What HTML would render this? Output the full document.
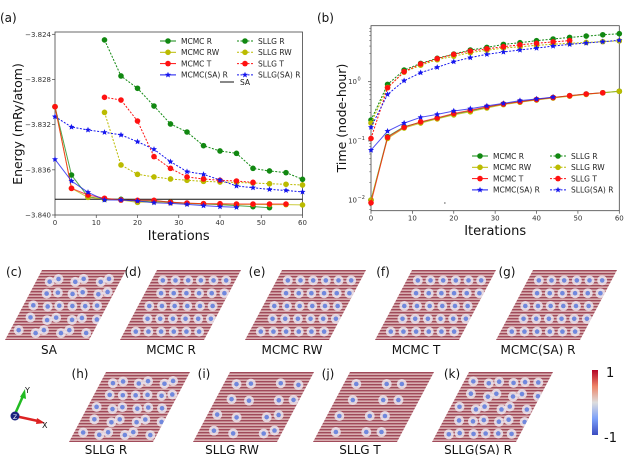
<!DOCTYPE html>
<html><head><meta charset="utf-8"><style>
html,body{margin:0;padding:0;background:#fff;}
svg{display:block;font-family:"DejaVu Sans","Liberation Sans",sans-serif;}
</style></head><body>
<svg id="fig" width="640" height="455" viewBox="0 0 640 455" xmlns="http://www.w3.org/2000/svg">
<defs>
<pattern id="stripes" width="6" height="3" patternUnits="userSpaceOnUse">
<rect width="6" height="3" fill="#d8aeb0"/><rect y="0" width="6" height="1.4" fill="#a04a5a"/>
</pattern>
<linearGradient id="cbar" x1="0" y1="0" x2="0" y2="1">
<stop offset="0" stop-color="#b40426"/><stop offset="0.25" stop-color="#ee8468"/><stop offset="0.5" stop-color="#dddddd"/><stop offset="0.75" stop-color="#7b9ff9"/><stop offset="1" stop-color="#3b4cc0"/>
</linearGradient>
</defs>
<g id="pa"></g>
<g id="pb"></g>
<g id="imgs"></g>
</svg>
<script>
// ---- Panel (a) data: energy (mRy/atom) ----
const xA_ticks = [0,10,20,30,40,50,60];
const yA_ticks = [-3.824,-3.828,-3.832,-3.836,-3.840];
const yA_tickLabels = ["\u22123.824","\u22123.828","\u22123.832","\u22123.836","\u22123.840"];
const eMcmcR  = [[0,-3.83041],[4,-3.83646],[8,-3.83838],[12,-3.83861],[16,-3.83861],[20,-3.83876],[24,-3.83876],[28,-3.83885],[32,-3.83897],[36,-3.83903],[40,-3.83908],[44,-3.83917],[48,-3.83926],[52,-3.83935]];
const eMcmcRW = [[0,-3.83041],[4,-3.83764],[8,-3.83844],[12,-3.83858],[16,-3.83867],[20,-3.83888],[24,-3.83882],[28,-3.83891],[32,-3.83897],[36,-3.83900],[40,-3.83903],[44,-3.83906],[48,-3.83906],[52,-3.83908],[56,-3.83908],[60,-3.83911]];
const eMcmcT  = [[0,-3.83041],[4,-3.83764],[8,-3.83823],[12,-3.83852],[16,-3.83867],[20,-3.83870],[24,-3.83870],[28,-3.83888],[32,-3.83894],[36,-3.83900],[40,-3.83900],[44,-3.83903],[48,-3.83903],[52,-3.83903],[56,-3.83903]];
const eMcmcSA = [[0,-3.83507],[4,-3.83699],[8,-3.83799],[12,-3.83867],[16,-3.83867],[20,-3.83876],[24,-3.83891],[28,-3.83897],[32,-3.83906],[36,-3.83917],[40,-3.83926],[44,-3.83932]];
const eSllgR  = [[12,-3.82450],[16,-3.82769],[20,-3.82878],[24,-3.83035],[28,-3.83194],[32,-3.83265],[36,-3.83386],[40,-3.83433],[44,-3.83454],[48,-3.83587],[52,-3.83610],[56,-3.83625],[60,-3.83684]];
const eSllgRW = [[12,-3.83091],[16,-3.83557],[20,-3.83640],[24,-3.83663],[28,-3.83681],[32,-3.83693],[36,-3.83702],[40,-3.83708],[44,-3.83711],[48,-3.83717],[52,-3.83723],[56,-3.83728],[60,-3.83734]];
const eSllgT  = [[12,-3.82958],[16,-3.82982],[20,-3.83168],[24,-3.83483],[28,-3.83587],[32,-3.83663],[36,-3.83681],[40,-3.83693],[44,-3.83699],[48,-3.83711]];
const eSllgSA = [[0,-3.83129],[4,-3.83221],[8,-3.83247],[12,-3.83268],[16,-3.83291],[20,-3.83351],[24,-3.83418],[28,-3.83528],[32,-3.83616],[36,-3.83640],[40,-3.83690],[44,-3.83743],[48,-3.83758],[52,-3.83773],[56,-3.83782],[60,-3.83796]];
const eSA = -3.83861;

// ---- Panel (b) data: time (node-hour), log scale ----
const xB_ticks = [0,10,20,30,40,50,60];
const yB_exps = [0,-1,-2];
const tSllgR  = [[0,0.225],[4,0.90],[8,1.57],[12,2.04],[16,2.48],[20,2.93],[24,3.43],[28,3.8],[32,4.27],[36,4.56],[40,4.93],[44,5.26],[48,5.6],[52,5.9],[56,6.2],[60,6.47]];
const tSllgRW = [[0,0.2],[4,0.8],[8,1.45],[12,1.9],[16,2.35],[20,2.7],[24,3.1],[28,3.4],[32,3.7],[36,3.9],[40,4.1],[44,4.3],[48,4.45],[52,4.6],[56,4.75],[60,4.9]];
const tSllgT  = [[0,0.11],[4,0.79],[8,1.48],[12,2.0],[16,2.45],[20,2.9],[24,3.3],[28,3.6],[32,3.9],[36,4.2],[40,4.45],[44,4.7],[48,4.95]];
const tSllgSA = [[0,0.17],[4,0.61],[8,1.04],[12,1.42],[16,1.75],[20,2.18],[24,2.55],[28,2.9],[32,3.17],[36,3.43],[40,3.7],[44,4.0],[48,4.27],[52,4.5],[56,4.74],[60,5.0]];
const tMcmcR  = [[0,0.01],[4,0.118],[8,0.174],[12,0.205],[16,0.24],[20,0.284],[24,0.32],[28,0.37],[32,0.42],[36,0.46],[40,0.50],[44,0.54],[48,0.58],[52,0.62],[56,0.65],[60,0.69]];
const tMcmcRW = [[0,0.01],[4,0.11],[8,0.165],[12,0.2],[16,0.235],[20,0.275],[24,0.31],[28,0.36],[32,0.41],[36,0.45],[40,0.49],[44,0.53],[48,0.57],[52,0.61],[56,0.65],[60,0.69]];
const tMcmcT  = [[0,0.009],[4,0.115],[8,0.17],[12,0.21],[16,0.245],[20,0.29],[24,0.33],[28,0.375],[32,0.42],[36,0.46],[40,0.5],[44,0.54],[48,0.58],[52,0.62],[56,0.65]];
const tMcmcSA = [[0,0.07],[4,0.146],[8,0.2],[12,0.25],[16,0.28],[20,0.32],[24,0.35],[28,0.39],[32,0.43],[36,0.48],[40,0.51],[44,0.55]];

const NS="http://www.w3.org/2000/svg";
function mk(tag,attrs,parent,txt){const e=document.createElementNS(NS,tag);for(const k in attrs)e.setAttribute(k,attrs[k]);if(txt!==undefined)e.textContent=txt;parent.appendChild(e);return e;}
const G="#118811",Y="#bbbb00",R="#ff1111",B="#1515ee";
function starPts(cx,cy,r){let p=[];for(let i=0;i<10;i++){const a=-Math.PI/2+i*Math.PI/5;const rr=i%2?r*0.45:r;p.push((cx+rr*Math.cos(a)).toFixed(1)+","+(cy+rr*Math.sin(a)).toFixed(1));}return p.join(" ");}
function series(g,data,X,Yf,color,dotted,star,name){
  const s=mk('g',{},g);
  
  
  const pts=data.map(d=>X(d[0]).toFixed(1)+","+Yf(d[1]).toFixed(1)).join(" ");
  const l=mk('polyline',{points:pts,fill:'none',stroke:color,'stroke-width':1,'stroke-dasharray':dotted?'2,1.5':'none',opacity:dotted?1:0.75},s);
  
  
  data.forEach(d=>{
    let m;
    if(star) m=mk('polygon',{points:starPts(X(d[0]),Yf(d[1]),3.2),fill:color},s);
    else m=mk('circle',{cx:X(d[0]),cy:Yf(d[1]),r:2.8,fill:color},s);
    
    
  });
}
function legend(g,x1,x2,y0,dy,fs){
  const items=[["MCMC R",G,0,0,x1],["MCMC RW",Y,0,0,x1],["MCMC T",R,0,0,x1],["MCMC(SA) R",B,0,1,x1],["SLLG R",G,1,0,x2],["SLLG RW",Y,1,0,x2],["SLLG T",R,1,0,x2],["SLLG(SA) R",B,1,1,x2]];
  items.forEach((it,i)=>{
    const y=y0+(i%4)*dy,x=it[4];
    const e=mk('g',{},g);
    
    
    mk('line',{x1:x,x2:x+16,y1:y,y2:y,stroke:it[1],'stroke-width':1,'stroke-dasharray':it[2]?'2,1.5':'none'},e);
    if(it[3])mk('polygon',{points:starPts(x+8,y,3.2),fill:it[1]},e);else mk('circle',{cx:x+8,cy:y,r:2.8,fill:it[1]},e);
    mk('text',{x:x+21,y:y+2.8,'font-size':fs,fill:'#222'},e,it[0]);
  });
}
// ---- Panel (a) ----
(function(){
  const g=document.getElementById('pa');
  const L=55,Rr=302.5,T=32,Bt=215;
  const X=v=>L+v/60*(Rr-L);
  const Yf=v=>34.3+(-3.824-v)/0.016*(215-34.3);
  mk('text',{x:0,y:22,'font-size':12,fill:'#111'},g,"(a)");
  const ax=mk('rect',{x:L,y:T,width:Rr-L,height:Bt-T,fill:'none',stroke:'#444','stroke-width':0.8},g);
  
  
  xA_ticks.forEach(t=>{mk('line',{x1:X(t),x2:X(t),y1:Bt,y2:Bt+3,stroke:'#444','stroke-width':0.7},g);
    const tl=mk('text',{x:X(t),y:Bt+10,'font-size':7,'text-anchor':'middle',fill:'#333'},g,String(t));
    
    });
  yA_ticks.forEach((t,i)=>{mk('line',{x1:L-3,x2:L,y1:Yf(t),y2:Yf(t),stroke:'#444','stroke-width':0.7},g);
    const tl=mk('text',{x:L-4,y:Yf(t)+2.5,'font-size':7,'text-anchor':'end',fill:'#333'},g,yA_tickLabels[i]);
    
    });
  const xt=mk('text',{x:(L+Rr)/2,y:240,'font-size':13,'text-anchor':'middle',fill:'#111'},g,"Iterations");
  
  
  const yt=mk('text',{x:0,y:0,'font-size':12.5,'text-anchor':'middle',fill:'#111',transform:'translate(22,124) rotate(-90)'},g,"Energy (mRy/atom)");
  
  
  const sa=mk('line',{x1:L,x2:Rr,y1:Yf(eSA),y2:Yf(eSA),stroke:'#111','stroke-width':1},g);
  
  
  series(g,eSllgR,X,Yf,G,1,0,'sllg-r');
  series(g,eSllgRW,X,Yf,Y,1,0,'sllg-rw');
  series(g,eSllgT,X,Yf,R,1,0,'sllg-t');
  series(g,eSllgSA,X,Yf,B,1,1,'sllg-sa-r');
  series(g,eMcmcR,X,Yf,G,0,0,'mcmc-r');
  series(g,eMcmcRW,X,Yf,Y,0,0,'mcmc-rw');
  series(g,eMcmcT,X,Yf,R,0,0,'mcmc-t');
  series(g,eMcmcSA,X,Yf,B,0,1,'mcmc-sa-r');
  legend(g,160,237,41,11.3,7.5);
  const le=mk('g',{},g);
  
  
  mk('line',{x1:220,x2:234,y1:82,y2:82,stroke:'#111','stroke-width':1},le);
  mk('text',{x:240,y:85,'font-size':7.5,fill:'#222'},le,"SA");
})();
// ---- Panel (b) ----
(function(){
  const g=document.getElementById('pb');
  const L=371,Rr=619.3,T=25.7,Bt=210.7;
  const X=v=>L+v/60*(Rr-L);
  const Yf=v=>81.7-Math.log10(v)*59.2;
  mk('text',{x:317,y:22,'font-size':12,fill:'#111'},g,"(b)");
  const ax=mk('rect',{x:L,y:T,width:Rr-L,height:Bt-T,fill:'none',stroke:'#444','stroke-width':0.8},g);
  
  
  xB_ticks.forEach(t=>{mk('line',{x1:X(t),x2:X(t),y1:Bt,y2:Bt+3,stroke:'#444','stroke-width':0.7},g);
    const tl=mk('text',{x:X(t),y:Bt+10,'font-size':7,'text-anchor':'middle',fill:'#333'},g,String(t));
    
    });
  yB_exps.forEach(e=>{const y=Yf(Math.pow(10,e));mk('line',{x1:L-3,x2:L,y1:y,y2:y,stroke:'#444','stroke-width':0.7},g);
    const tl=mk('text',{x:L-14,y:y+2.5,'font-size':7,'text-anchor':'end',fill:'#333'},g,"10");
    
    
    mk('text',{x:L-13.5,y:y-1,'font-size':5,fill:'#333'},g,e===0?"0":"\u2212"+(-e));
    for(let k=2;k<10;k++){const v=Math.pow(10,e)*k;const yy=Yf(v);if(yy>T&&yy<Bt)mk('line',{x1:L-1.8,x2:L,y1:yy,y2:yy,stroke:'#444','stroke-width':0.5},g);}
  });
  for(let k=2;k<10;k++){const yy=Yf(0.001*k);if(yy>T&&yy<Bt)mk('line',{x1:L-1.8,x2:L,y1:yy,y2:yy,stroke:'#444','stroke-width':0.5},g);}
  const xt=mk('text',{x:(L+Rr)/2,y:235,'font-size':13,'text-anchor':'middle',fill:'#111'},g,"Iterations");
  
  
  const yt=mk('text',{x:0,y:0,'font-size':12.5,'text-anchor':'middle',fill:'#111',transform:'translate(346,118) rotate(-90)'},g,"Time (node-hour)");
  
  
  series(g,tSllgR,X,Yf,G,1,0,'sllg-r');
  series(g,tSllgRW,X,Yf,Y,1,0,'sllg-rw');
  series(g,tSllgT,X,Yf,R,1,0,'sllg-t');
  series(g,tSllgSA,X,Yf,B,1,1,'sllg-sa-r');
  series(g,tMcmcR,X,Yf,G,0,0,'mcmc-r');
  series(g,tMcmcRW,X,Yf,Y,0,0,'mcmc-rw');
  series(g,tMcmcT,X,Yf,R,0,0,'mcmc-t');
  series(g,tMcmcSA,X,Yf,B,0,1,'mcmc-sa-r');
  legend(g,472,550,156,11.3,7.5);
  mk('rect',{x:444.5,y:202,width:0.8,height:2,fill:'#555'},g);
})();
// ---- Spin texture panels ----
(function(){
  const g=document.getElementById('imgs');
  const panels=[
    ["(c)","SA",42,270,14,49,5],["(d)","MCMC R",157,270,133,171,1],["(e)","MCMC RW",282,270,257,292,2],["(f)","MCMC T",412,270,383,416,3],["(g)","MCMC(SA) R",533,270,507,538,4],
    ["(h)","SLLG R",106,372,80,106,6],["(i)","SLLG RW",230,372,204,232,7],["(j)","SLLG T",350,372,328,360,8],["(k)","SLLG(SA) R",469,372,452,478,9]
  ];
  const W=84,S=37,H=70;
  panels.forEach((p,idx)=>{
    const [lab,name,x,y,lx,nx,seed]=p;
    const pg=mk('g',{},g);
    
    
    const id='clip'+idx;
    const cp=mk('clipPath',{id:id},pg);
    const poly=`${x},${y} ${x+W},${y} ${x+W-S},${y+H} ${x-S},${y+H}`;
    mk('polygon',{points:poly},cp);
    mk('polygon',{points:poly,fill:'url(#stripes)'},pg);
    const dg=mk('g',{'clip-path':`url(#${id})`},pg);
    const sparse=(seed===7||seed===8);
    const rows=sparse?4:5, cols=sparse?5:6;
    for(let r=0;r<rows;r++){for(let c=0;c<cols;c++){
      const jitter=(seed>=5&&seed!==8)?((Math.sin(seed*13+r*7+c*3)*3)):0;
      if(sparse && ((r*3+c+seed)%3===0)) continue;
      const ty=y+4+(r+0.5)*(H-6)/rows+jitter*0.5;
      const frac=(ty-y)/H;
      const tx=x-S*frac+5+(c+0.5)*(W-8)/cols+(r%2)*5+jitter;
      mk('circle',{cx:tx,cy:ty,r:5,fill:'#ece6ee',opacity:0.85},dg);
      mk('circle',{cx:tx,cy:ty,r:2.3,fill:'#7088dd'},dg);
    }}
    const pl=mk('text',{x:lx,y:(y===270?276:378),'font-size':12,'text-anchor':'middle',fill:'#111'},pg,lab);
    
    
    const nl=mk('text',{x:nx,y:(y===270?354:454),'font-size':12,'text-anchor':'middle',fill:'#111'},pg,name);
    
    
  });
  const tr=mk('g',{},g);
  
  
  mk('line',{x1:15,y1:414,x2:23,y2:396,stroke:'#22bb22','stroke-width':2.5},tr);
  mk('polygon',{points:'20,397 26,399 25,389',fill:'#22bb22'},tr);
  mk('line',{x1:15,y1:416,x2:38,y2:421,stroke:'#dd2222','stroke-width':2.5},tr);
  mk('polygon',{points:'37,418 36,424 45,423',fill:'#dd2222'},tr);
  mk('circle',{cx:15,cy:416,r:4.5,fill:'#1a237e'},tr);
  mk('text',{x:13,y:419,'font-size':6,fill:'#fff'},tr,"Z");
  mk('text',{x:25,y:393,'font-size':8,fill:'#111'},tr,"Y");
  mk('text',{x:42,y:428,'font-size':8,fill:'#111'},tr,"X");
  const cb=mk('g',{},g);
  
  
  mk('rect',{x:592,y:370,width:6,height:65,fill:'url(#cbar)'},cb);
  mk('text',{x:606,y:377,'font-size':13,fill:'#111'},cb,"1");
  mk('text',{x:604,y:442,'font-size':13,fill:'#111'},cb,"-1");
})();
</script>
</body></html>
